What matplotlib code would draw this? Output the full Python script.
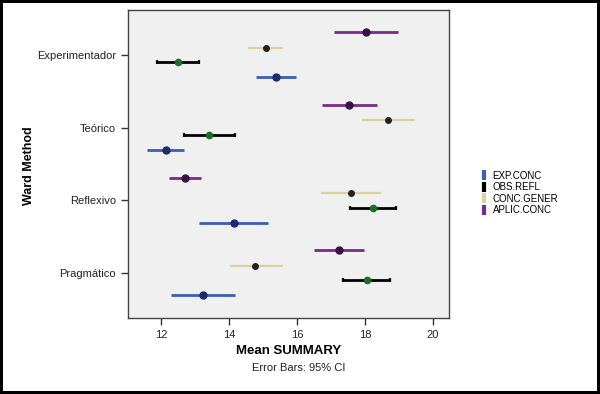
import numpy as np
import matplotlib.pyplot as plt
from matplotlib.lines import Line2D

plt.rcParams['font.family'] = ['Liberation Sans', 'DejaVu Sans']

# ============================================
# DATA (means and 95% CI bounds)
# ============================================

groups = ['Experimentador', 'Teórico', 'Reflexivo', 'Pragmático']
series = ['EXP.CONC', 'OBS.REFL', 'CONC.GENER', 'APLIC.CONC']

exp_mean = [15.38, 12.15, 14.15, 13.24]
exp_low = [14.79, 11.59, 13.13, 12.29]
exp_high = [15.98, 12.69, 15.16, 14.19]

obs_mean = [12.49, 13.42, 18.23, 18.05]
obs_low = [11.87, 12.69, 17.55, 17.36]
obs_high = [13.12, 14.18, 18.92, 18.74]

conc_mean = [15.08, 18.69, 17.59, 14.78]
conc_low = [14.57, 17.91, 16.71, 14.03]
conc_high = [15.60, 19.47, 18.48, 15.58]

aplic_mean = [18.03, 17.53, 12.72, 17.24]
aplic_low = [17.09, 16.73, 12.24, 16.50]
aplic_high = [18.97, 18.34, 13.18, 17.98]

# ============================================
# STYLES
# ============================================

styles = {
    'EXP.CONC':   dict(color='#3b5eb4', mfc='#1c2a6e', ms=5.0, lw=2.0, cap=0),
    'OBS.REFL':   dict(color='#000000', mfc='#1f6b2a', ms=4.5, lw=2.0, cap=1.5),
    'CONC.GENER': dict(color='#d9d29a', mfc='#222222', ms=4.0, lw=1.6, cap=0),
    'APLIC.CONC': dict(color='#7a2a88', mfc='#3a0f45', ms=5.0, lw=2.0, cap=0),
}
offsets = {'EXP.CONC': 0.31, 'OBS.REFL': 0.10, 'CONC.GENER': -0.10, 'APLIC.CONC': -0.31}

data = {
    'EXP.CONC': (exp_mean, exp_low, exp_high),
    'OBS.REFL': (obs_mean, obs_low, obs_high),
    'CONC.GENER': (conc_mean, conc_low, conc_high),
    'APLIC.CONC': (aplic_mean, aplic_low, aplic_high),
}

fig = plt.figure(figsize=(6.0, 3.94), dpi=100)
fig.patch.set_edgecolor('black')
fig.patch.set_linewidth(3)
ax = fig.add_axes([0.2133, 0.193, 0.535, 0.782])
ax.set_facecolor('#f0f0f0')

y_pos = np.arange(len(groups))
for name in series:
    m, lo, hi = (np.array(a) for a in data[name])
    st = styles[name]
    y = y_pos + offsets[name]
    ax.errorbar(m, y, xerr=[m - lo, hi - m], fmt='o', color=st['color'],
                ecolor=st['color'], elinewidth=st['lw'], capsize=st['cap'],
                capthick=st['lw'] * 0.8, ms=st['ms'], mfc=st['mfc'],
                mec=st['mfc'], zorder=3)

ax.set_xlim(11.03, 20.47)
ax.set_ylim(3.62, -0.62)
ax.set_xticks([12, 14, 16, 18, 20])
ax.set_yticks(y_pos)
ax.set_yticklabels(groups)
ax.tick_params(axis='both', labelsize=8, length=5, width=1, color='#333333',
               labelcolor='#222222', direction='out')
for s in ax.spines.values():
    s.set_color('#444444')
    s.set_linewidth(1)

ax.set_xlabel('Mean SUMMARY', fontsize=9.5, fontweight='bold', labelpad=4)
ax.set_ylabel('Ward Method', fontsize=9, fontweight='bold')
ax.yaxis.set_label_coords(-0.29, 0.495)
fig.text(0.497, 0.066, 'Error Bars: 95% CI', ha='center', va='center',
         fontsize=8, color='#222222')

handles = [Line2D([], [], marker='|', linestyle='none', color=styles[n]['color'],
                  ms=7, mew=3) for n in series]
fig.legend(handles, series, loc='center left', bbox_to_anchor=(0.795, 0.51),
           frameon=False, fontsize=7, handlelength=0.6, handletextpad=0.6,
           labelspacing=0.15, borderaxespad=0)

plt.savefig('out.png', dpi=100)
